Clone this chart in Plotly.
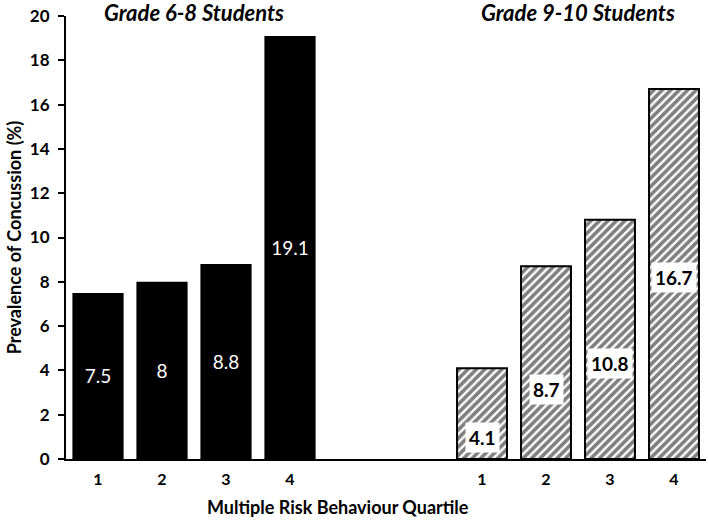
import plotly.graph_objects as go

quartiles = ["1", "2", "3", "4"]
grade68_values = [7.5, 8, 8.8, 19.1]
grade910_values = [4.1, 8.7, 10.8, 16.7]
group_titles = ["Grade 6-8 Students", "Grade 9-10 Students"]
y_ticks = [0, 2, 4, 6, 8, 10, 12, 14, 16, 18, 20]
x_title = "Multiple Risk Behaviour Quartile"
y_title = "Prevalence of Concussion (%)"

# label heights (as fraction of bar height) for the hatched group labels
label_frac = [0.24, 0.36, 0.40, 0.49]

FONT = "Lato"
left_x = list(range(4))
right_x = [6 + i for i in range(4)]

fig = go.Figure()
fig.add_trace(go.Bar(
    x=left_x, y=grade68_values, width=0.8,
    marker=dict(color="black", line=dict(color="black", width=0)),
    text=[f"{v:g}" for v in grade68_values],
    textposition="inside", insidetextanchor="middle",
    textfont=dict(family=FONT, size=19, color="white"),
    showlegend=False, hoverinfo="skip",
))
fig.add_trace(go.Bar(
    x=right_x, y=grade910_values, width=0.78,
    marker=dict(color="white",
                line=dict(color="black", width=2),
                pattern=dict(shape="/", size=6, solidity=0.6,
                             fgcolor="black", bgcolor="white")),
    showlegend=False, hoverinfo="skip",
))
for x, v, f in zip(right_x, grade910_values, label_frac):
    fig.add_annotation(x=x, y=v * f, text=f"<b>{v:g}</b>", showarrow=False,
                       font=dict(family=FONT, size=19, color="black"),
                       bgcolor="white", borderpad=3)

for cx, t in zip([1.5, 7.5], group_titles):
    fig.add_annotation(x=cx, y=1.009, xref="x", yref="paper", text=f"<b><i>{t}</i></b>",
                       showarrow=False, yanchor="middle",
                       font=dict(family=FONT, size=22, color="black"))

fig.add_annotation(x=0.425, y=-0.108, xref="paper", yref="paper", text=f"<b>{x_title}</b>",
                   showarrow=False, yanchor="middle",
                   font=dict(family=FONT, size=18, color="black"))

fig.update_layout(
    width=709, height=522,
    margin=dict(l=66, r=3, t=16, b=63),
    paper_bgcolor="white", plot_bgcolor="white",
    bargap=0.2,
    xaxis=dict(range=[-0.5, 9.5], tickvals=left_x + right_x, ticktext=quartiles + quartiles,
               showline=True, linecolor="black", linewidth=2, ticks="", showgrid=False,
               zeroline=False, automargin=False, ticklabelstandoff=5,
               tickfont=dict(family=FONT, size=16, color="black", weight="bold")),
    yaxis=dict(range=[0, 20], tickvals=y_ticks, showline=True, linecolor="black", linewidth=2,
               ticks="outside", ticklen=6, tickwidth=2, tickcolor="black", showgrid=False,
               zeroline=False, automargin=False, ticklabelstandoff=5,
               tickfont=dict(family=FONT, size=17, color="black", weight="bold"),
               title=dict(text=f"<b>{y_title}</b>", standoff=4,
                          font=dict(family=FONT, size=18, color="black"))),
)

fig.write_html("out.html", config={"displayModeBar": False},
               post_script="document.body.style.margin='0px';")
